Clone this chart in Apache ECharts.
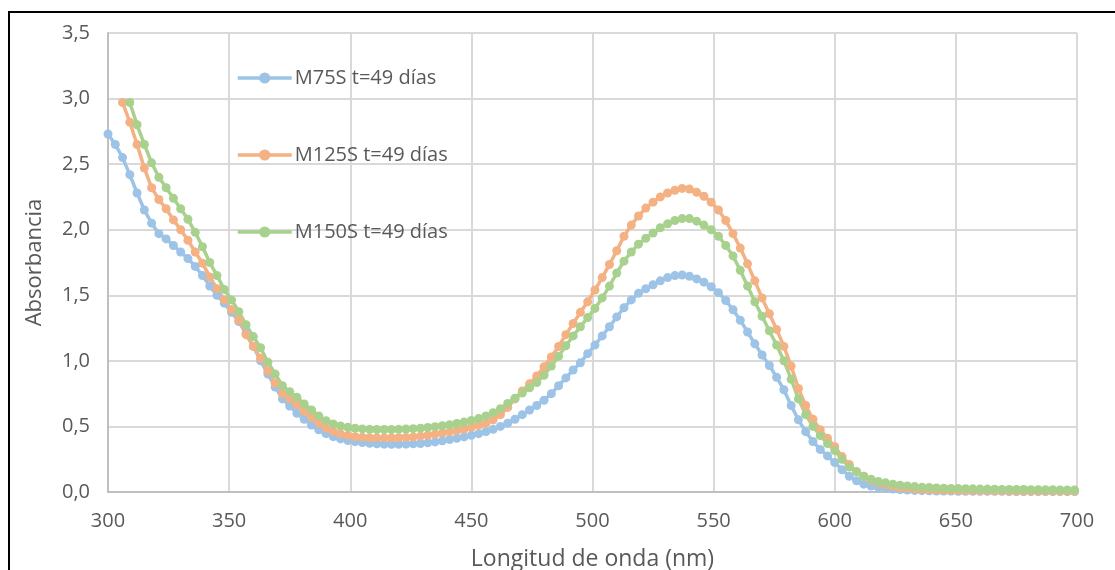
<!DOCTYPE html>
<html>
<head>
<meta charset="utf-8">
<title>Absorbancia</title>
<script src="https://cdn.jsdelivr.net/npm/echarts@6.0.0/dist/echarts.min.js"></script>
<style>
  html, body { margin: 0; padding: 0; background: #ffffff; }
  #chart { width: 1115px; height: 570px; }
</style>
</head>
<body>
<div id="chart"></div>
<script>
// Wavelength grid (nm), one reading every 3 nm
const wavelengths = [
  300, 303, 306, 309, 312, 315, 318, 321, 324, 327, 330, 333, 336, 339, 342, 345, 348, 351, 354, 357,
  360, 363, 366, 369, 372, 375, 378, 381, 384, 387, 390, 393, 396, 399, 402, 405, 408, 411, 414, 417,
  420, 423, 426, 429, 432, 435, 438, 441, 444, 447, 450, 453, 456, 459, 462, 465, 468, 471, 474, 477,
  480, 483, 486, 489, 492, 495, 498, 501, 504, 507, 510, 513, 516, 519, 522, 525, 528, 531, 534, 537,
  540, 543, 546, 549, 552, 555, 558, 561, 564, 567, 570, 573, 576, 579, 582, 585, 588, 591, 594, 597,
  600, 603, 606, 609, 612, 615, 618, 621, 624, 627, 630, 633, 636, 639, 642, 645, 648, 651, 654, 657,
  660, 663, 666, 669, 672, 675, 678, 681, 684, 687, 690, 693, 696, 699
];

// M75S, t = 49 días
const m75s = [
  2.73, 2.65, 2.55, 2.42, 2.28, 2.15, 2.05, 1.97, 1.93, 1.88, 1.83, 1.78, 1.72, 1.65, 1.57, 1.50, 1.44, 1.37, 1.30, 1.21,
  1.11, 1.00, 0.90, 0.80, 0.71, 0.655, 0.60, 0.555, 0.51, 0.475, 0.445, 0.422, 0.405, 0.392, 0.384, 0.377, 0.372, 0.368, 0.365, 0.364,
  0.364, 0.365, 0.367, 0.370, 0.375, 0.382, 0.390, 0.400, 0.410, 0.420, 0.432, 0.445, 0.460, 0.478, 0.500, 0.525, 0.555, 0.590, 0.625, 0.660,
  0.700, 0.750, 0.810, 0.870, 0.930, 0.985, 1.055, 1.120, 1.190, 1.260, 1.335, 1.405, 1.465, 1.515, 1.550, 1.580, 1.610, 1.635, 1.650, 1.655,
  1.645, 1.625, 1.600, 1.565, 1.520, 1.460, 1.390, 1.310, 1.220, 1.130, 1.045, 0.965, 0.875, 0.780, 0.660, 0.550, 0.460, 0.385, 0.325, 0.275,
  0.225, 0.170, 0.120, 0.086, 0.060, 0.045, 0.035, 0.028, 0.022, 0.018, 0.015, 0.012, 0.010, 0.009, 0.008, 0.007, 0.007, 0.006, 0.006, 0.006,
  0.005, 0.005, 0.005, 0.005, 0.004, 0.004, 0.004, 0.004, 0.004, 0.004, 0.003, 0.003, 0.003, 0.003
];

// M125S, t = 49 días (readings start at 306 nm)
const m125s = [
  null, null, 2.97, 2.82, 2.65, 2.47, 2.32, 2.23, 2.16, 2.075, 2.00, 1.92, 1.83, 1.745, 1.64, 1.55, 1.465, 1.39, 1.31, 1.20,
  1.11, 1.02, 0.92, 0.83, 0.75, 0.71, 0.665, 0.615, 0.57, 0.525, 0.488, 0.46, 0.443, 0.43, 0.422, 0.417, 0.414, 0.413, 0.413, 0.413,
  0.414, 0.416, 0.42, 0.426, 0.433, 0.441, 0.45, 0.458, 0.468, 0.48, 0.493, 0.508, 0.525, 0.55, 0.59, 0.645, 0.71, 0.77, 0.825, 0.885,
  0.955, 1.03, 1.11, 1.20, 1.285, 1.37, 1.45, 1.54, 1.635, 1.735, 1.84, 1.95, 2.035, 2.105, 2.165, 2.21, 2.25, 2.28, 2.30, 2.315,
  2.31, 2.285, 2.255, 2.21, 2.15, 2.07, 1.97, 1.86, 1.74, 1.61, 1.48, 1.36, 1.24, 1.11, 0.96, 0.79, 0.66, 0.555, 0.475, 0.41,
  0.345, 0.27, 0.21, 0.155, 0.12, 0.09, 0.07, 0.055, 0.043, 0.034, 0.028, 0.024, 0.021, 0.018, 0.016, 0.014, 0.013, 0.012, 0.011, 0.011,
  0.010, 0.010, 0.009, 0.009, 0.009, 0.008, 0.008, 0.008, 0.008, 0.007, 0.007, 0.007, 0.007, 0.007
];

// M150S, t = 49 días (readings start at 309 nm)
const m150s = [
  null, null, null, 2.97, 2.80, 2.65, 2.51, 2.40, 2.32, 2.24, 2.16, 2.08, 1.98, 1.87, 1.75, 1.65, 1.545, 1.465, 1.375, 1.275,
  1.185, 1.10, 0.99, 0.90, 0.81, 0.765, 0.722, 0.671, 0.625, 0.58, 0.544, 0.519, 0.503, 0.493, 0.486, 0.481, 0.478, 0.477, 0.477, 0.477,
  0.478, 0.48, 0.483, 0.487, 0.492, 0.498, 0.505, 0.513, 0.522, 0.533, 0.545, 0.56, 0.58, 0.605, 0.635, 0.675, 0.715, 0.755, 0.795, 0.835,
  0.89, 0.96, 1.035, 1.115, 1.19, 1.26, 1.33, 1.40, 1.48, 1.57, 1.67, 1.76, 1.83, 1.89, 1.935, 1.975, 2.015, 2.045, 2.07, 2.085,
  2.085, 2.065, 2.035, 2.00, 1.95, 1.88, 1.80, 1.69, 1.57, 1.45, 1.34, 1.23, 1.12, 1.00, 0.86, 0.71, 0.59, 0.50, 0.43, 0.37,
  0.315, 0.25, 0.19, 0.155, 0.12, 0.097, 0.08, 0.07, 0.06, 0.052, 0.046, 0.041, 0.037, 0.034, 0.031, 0.029, 0.027, 0.026, 0.025, 0.024,
  0.023, 0.022, 0.021, 0.02, 0.02, 0.019, 0.019, 0.018, 0.018, 0.017, 0.017, 0.016, 0.016, 0.015
];

const seriesNames = ['M75S t=49 días', 'M125S t=49 días', 'M150S t=49 días'];
const seriesColors = ['#9DC3E6', '#F4B183', '#A9D18E'];

const FONT = '"Open Sans", "Noto Sans", sans-serif';
const TEXT_COLOR = '#595959';

function toPairs(values) {
  const out = [];
  for (let i = 0; i < wavelengths.length; i++) {
    if (values[i] !== null && values[i] !== undefined) out.push([wavelengths[i], values[i]]);
  }
  return out;
}

const chart = echarts.init(document.getElementById('chart'), null, { renderer: 'canvas' });

const seriesData = [m75s, m125s, m150s];

chart.setOption({
  animation: false,
  backgroundColor: '#ffffff',
  textStyle: { fontFamily: FONT },
  graphic: [{
    type: 'rect',
    silent: true,
    z: 100,
    shape: { x: 9, y: 12, width: 1200, height: 700 },
    style: { fill: 'none', stroke: '#000000', lineWidth: 2 }
  }],
  grid: {
    left: 108, right: 38, top: 33, bottom: 78,
    containLabel: false,
    outerBoundsMode: 'none'
  },
  legend: {
    orient: 'vertical',
    left: 236,
    top: 68,
    padding: 0,
    itemWidth: 54,
    itemHeight: 14,
    itemGap: 57,
    lineStyle: { width: 3.5 },
    textStyle: { fontSize: 20, color: TEXT_COLOR, fontFamily: FONT, padding: [0, 0, 0, -2] },
    data: seriesNames
  },
  xAxis: {
    type: 'value',
    min: 300,
    max: 700,
    interval: 50,
    name: 'Longitud de onda (nm)',
    nameLocation: 'middle',
    nameGap: 56,
    nameTextStyle: { fontSize: 23, color: TEXT_COLOR, fontFamily: FONT },
    axisLine: { show: true, lineStyle: { color: '#BFBFBF', width: 2 } },
    axisTick: { show: false },
    axisLabel: { fontSize: 20, color: TEXT_COLOR, margin: 19, fontFamily: FONT },
    splitLine: { show: true, lineStyle: { color: '#D9D9D9', width: 2 } }
  },
  yAxis: {
    type: 'value',
    min: 0,
    max: 3.5,
    interval: 0.5,
    name: 'Absorbancia',
    nameLocation: 'middle',
    nameGap: 62,
    nameRotate: 90,
    nameTextStyle: { fontSize: 22, color: TEXT_COLOR, fontFamily: FONT },
    axisLine: { show: true, lineStyle: { color: '#BFBFBF', width: 2 } },
    axisTick: { show: false },
    axisLabel: {
      fontSize: 20, color: TEXT_COLOR, margin: 18, fontFamily: FONT,
      formatter: v => v.toFixed(1).replace('.', ',')
    },
    splitLine: { show: true, lineStyle: { color: '#D9D9D9', width: 2 } }
  },
  series: seriesData.map((vals, i) => ({
    name: seriesNames[i],
    type: 'line',
    data: toPairs(vals),
    symbol: 'circle',
    symbolSize: 9,
    showAllSymbol: true,
    lineStyle: { color: seriesColors[i], width: 3.5 },
    itemStyle: { color: seriesColors[i], borderWidth: 0 },
    emphasis: { disabled: true }
  }))
});
</script>
</body>
</html>
